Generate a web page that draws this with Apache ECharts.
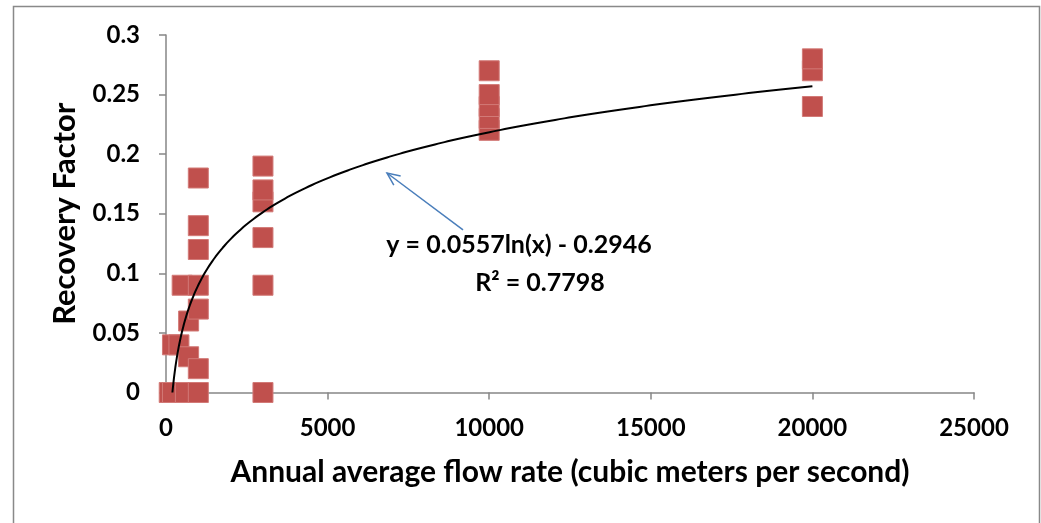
<!DOCTYPE html>
<html>
<head>
<meta charset="utf-8">
<script src="https://cdn.jsdelivr.net/npm/echarts@6/dist/echarts.min.js"></script>
<style>
html,body{margin:0;padding:0;background:#fff;}
#chart{width:1041px;height:523px;}
</style>
</head>
<body>
<div id="chart"></div>
<script>
// Observed data points (flow rate, recovery factor)
var flowRates = [100, 200, 600, 1000, 200, 400, 700, 1000, 700, 1000, 500, 1000, 1000, 1000, 1000,
                 3000, 3000, 3000, 3000, 3000, 3000,
                 10000, 10000, 10000, 10000, 10000,
                 20000, 20000, 20000];
var recoveryFactors = [0, 0, 0, 0, 0.04, 0.04, 0.03, 0.02, 0.06, 0.07, 0.09, 0.09, 0.12, 0.14, 0.18,
                 0, 0.09, 0.13, 0.16, 0.17, 0.19,
                 0.22, 0.23, 0.24, 0.25, 0.27,
                 0.24, 0.27, 0.28];
// Logarithmic trendline coefficients (from the chart's equation)
var trendA = 0.0557;
var trendB = -0.2946;
var trendEndX = 20000;
var xTicks = [0, 5000, 10000, 15000, 20000, 25000];
var yTicks = [0, 0.05, 0.1, 0.15, 0.2, 0.25, 0.3];
var equationText = 'y = 0.0557ln(x) - 0.2946';
var r2Text = 'R² = 0.7798';
// Arrow annotation endpoints (data coordinates): tail -> head
var arrowTail = [9190, 0.1364];
var arrowHead = [6838, 0.1842];

var scatterData = flowRates.map(function (x, i) { return [x, recoveryFactors[i]]; });
var trendStart = Math.exp(-trendB / trendA);
var trendData = [];
var nSteps = 400;
for (var i = 0; i <= nSteps; i++) {
  var x = trendStart * Math.pow(trendEndX / trendStart, i / nSteps);
  trendData.push([x, trendA * Math.log(x) + trendB]);
}

var FONT = 'Lato';
var chart = echarts.init(document.getElementById('chart'));
chart.setOption({
  animation: false,
  backgroundColor: '#fff',
  grid: { left: 166, right: 67, top: 35, bottom: 130.5, containLabel: false },
  xAxis: {
    type: 'value', min: xTicks[0], max: xTicks[xTicks.length - 1], interval: 5000,
    name: 'Annual average flow rate (cubic meters per second)',
    nameLocation: 'middle', nameGap: 65,
    nameTextStyle: { fontFamily: FONT, fontWeight: 'bold', fontSize: 30, color: '#000' },
    axisLine: { show: true, lineStyle: { color: '#868686', width: 1.5 } },
    axisTick: { show: true, inside: false, length: 7, lineStyle: { color: '#868686', width: 1.5 } },
    axisLabel: { margin: 24, fontFamily: FONT, fontWeight: 'bold', fontSize: 24, color: '#000',
      formatter: function (v) { return String(v); } },
    splitLine: { show: false }
  },
  yAxis: {
    type: 'value', min: yTicks[0], max: yTicks[yTicks.length - 1], interval: 0.05,
    name: 'Recovery Factor',
    nameLocation: 'middle', nameGap: 86,
    nameTextStyle: { fontFamily: FONT, fontWeight: 'bold', fontSize: 31, color: '#000' },
    axisLine: { show: true, lineStyle: { color: '#868686', width: 1.5 } },
    axisTick: { show: true, inside: false, length: 7, lineStyle: { color: '#868686', width: 1.5 } },
    axisLabel: { margin: 26, fontFamily: FONT, fontWeight: 'bold', fontSize: 24, color: '#000',
      formatter: function (v) { return String(Math.round(v * 100) / 100); } },
    splitLine: { show: false }
  },
  series: [
    {
      type: 'scatter', data: scatterData, symbol: 'rect', symbolSize: 20,
      itemStyle: { color: '#c0504d', opacity: 1, borderColor: '#d27a77', borderWidth: 1 },
      z: 2
    },
    {
      type: 'line', data: trendData, showSymbol: false, symbol: 'none', smooth: false,
      lineStyle: { color: '#000', width: 2 }, z: 3
    },
    {
      type: 'custom', z: 4, silent: true,
      data: [[arrowTail[0], arrowTail[1], arrowHead[0], arrowHead[1]]],
      renderItem: function (params, api) {
        var p1 = api.coord([api.value(0), api.value(1)]);
        var p2 = api.coord([api.value(2), api.value(3)]);
        var ang = Math.atan2(p1[1] - p2[1], p1[0] - p2[0]);
        var L = 14, spread = 0.42;
        var a1 = [p2[0] + L * Math.cos(ang + spread), p2[1] + L * Math.sin(ang + spread)];
        var a2 = [p2[0] + L * Math.cos(ang - spread), p2[1] + L * Math.sin(ang - spread)];
        var st = { stroke: '#4a7ebb', lineWidth: 1.5, fill: null };
        return {
          type: 'group',
          children: [
            { type: 'line', shape: { x1: p1[0], y1: p1[1], x2: p2[0], y2: p2[1] }, style: st },
            { type: 'polyline', shape: { points: [a1, p2, a2] }, style: st }
          ]
        };
      }
    }
  ],
  graphic: [
    { type: 'rect', left: 11, top: 4, shape: { width: 1026, height: 530 },
      style: { fill: null, stroke: '#898989', lineWidth: 1.5 }, silent: true, z: -1 },
    { type: 'text', x: 519, y: 245,
      style: { text: equationText, font: 'bold 25px Lato', fill: '#000', textAlign: 'center', textVerticalAlign: 'middle' } },
    { type: 'text', x: 540, y: 283,
      style: { text: r2Text, font: 'bold 25px Lato', fill: '#000', textAlign: 'center', textVerticalAlign: 'middle' } }
  ]
});
</script>
</body>
</html>
